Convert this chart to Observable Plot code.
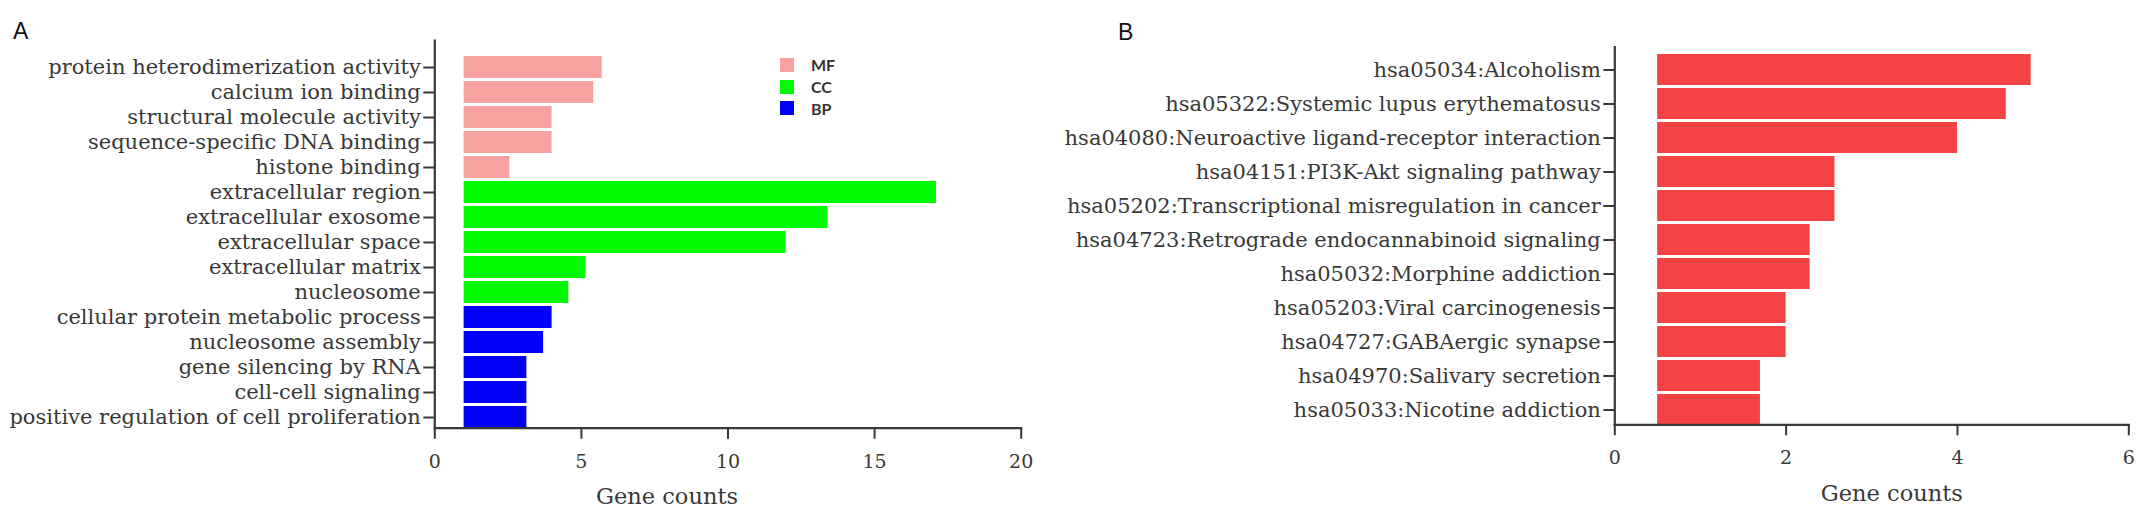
<!DOCTYPE html>
<html>
<head>
<meta charset="utf-8">
<script src="https://cdn.jsdelivr.net/npm/d3@7"></script>
<script src="https://cdn.jsdelivr.net/npm/@observablehq/plot@0.6"></script>
<style>
  body { margin: 0; background: #fff; }
  #wrap { position: relative; width: 2150px; height: 520px; background: #fff; overflow: hidden; }
  #wrap svg { position: absolute; top: 0; }
  .panel-tag { position: absolute; font-family: "Liberation Sans", Arial, sans-serif; font-size: 23px; line-height: 1; color: #111; }
  #legend { position: absolute; left: 780px; top: 54px; font-family: Lato, "Open Sans", sans-serif; font-weight: 700; font-size: 16px; color: #333; }
  #legend .row { display: flex; align-items: center; height: 21.7px; }
  #legend .sw { width: 14px; height: 14px; margin-right: 17px; }
</style>
</head>
<body>
<div id="wrap">
  <div class="panel-tag" style="left:13px;top:20px">A</div>
  <div class="panel-tag" style="left:1118px;top:20.5px">B</div>
  <div id="legend"></div>
</div>
<script>
// GO enrichment terms, top to bottom
const goTerms = [
  "protein heterodimerization activity",
  "calcium ion binding",
  "structural molecule activity",
  "sequence-specific DNA binding",
  "histone binding",
  "extracellular region",
  "extracellular exosome",
  "extracellular space",
  "extracellular matrix",
  "nucleosome",
  "cellular protein metabolic process",
  "nucleosome assembly",
  "gene silencing by RNA",
  "cell-cell signaling",
  "positive regulation of cell proliferation"
];
const goCounts = [5.71, 5.42, 4.0, 4.0, 2.56, 17.11, 13.41, 11.98, 5.15, 4.57, 4.0, 3.71, 3.14, 3.14, 3.14];
const goGroups = ["MF", "MF", "MF", "MF", "MF", "CC", "CC", "CC", "CC", "CC", "BP", "BP", "BP", "BP", "BP"];
const groupNames = ["MF", "CC", "BP"];
const groupColors = ["#f7a1a1", "#00fb00", "#0000f6"];
const goBase = 1;
const goTicks = [0, 5, 10, 15, 20];

// KEGG pathways, top to bottom
const keggTerms = [
  "hsa05034:Alcoholism",
  "hsa05322:Systemic lupus erythematosus",
  "hsa04080:Neuroactive ligand-receptor interaction",
  "hsa04151:PI3K-Akt signaling pathway",
  "hsa05202:Transcriptional misregulation in cancer",
  "hsa04723:Retrograde endocannabinoid signaling",
  "hsa05032:Morphine addiction",
  "hsa05203:Viral carcinogenesis",
  "hsa04727:GABAergic synapse",
  "hsa04970:Salivary secretion",
  "hsa05033:Nicotine addiction"
];
const keggCounts = [4.86, 4.57, 4.0, 2.57, 2.57, 2.28, 2.28, 2.0, 2.0, 1.7, 1.7];
const keggColor = "#f54343";
const keggBase = 0.5;
const keggTicks = [0, 2, 4, 6];

const axisTitle = "Gene counts";
const serif = "'DejaVu Serif', serif";
const ink = "#383838";

const goData = goTerms.map((term, i) => ({term, count: goCounts[i], group: goGroups[i]}));
const keggData = keggTerms.map((term, i) => ({term, count: keggCounts[i]}));

function panel({data, terms, ticks, base, xMax, fill, color, margins, yPad, titleDx}) {
  return Plot.plot({
    width: 1075,
    height: 520,
    ...margins,
    style: {fontFamily: serif, color: ink, background: "transparent", overflow: "visible"},
    x: {domain: [0, xMax], ticks},
    y: {domain: terms, paddingInner: yPad.inner, paddingOuter: yPad.outer, align: 1},
    color,
    marks: [
      Plot.barX(data, {y: "term", x1: () => base, x2: "count", fill}),
      Plot.axisY({tickSize: 11, tickPadding: 3, fontSize: 21, label: null, strokeWidth: 2}),
      Plot.axisX({ticks, tickFormat: d3.format("d"), tickSize: 11, tickPadding: 15, fontSize: 19, label: null, strokeWidth: 2}),
      Plot.frame({anchor: "left", strokeWidth: 2.2}),
      Plot.frame({anchor: "bottom", strokeWidth: 2.2}),
      Plot.text([axisTitle], {frameAnchor: "bottom", lineAnchor: "middle", dx: titleDx, dy: 69, fontSize: 22.5})
    ]
  });
}

const wrap = document.getElementById("wrap");

const chartA = panel({
  data: goData,
  terms: goTerms,
  ticks: goTicks,
  base: goBase,
  xMax: 20,
  fill: "group",
  color: {domain: groupNames, range: groupColors},
  margins: {marginLeft: 434.3, marginRight: 54.3, marginTop: 40, marginBottom: 92.3},
  yPad: {inner: 0.12, outer: 0.13},
  titleDx: -61
});
chartA.style.left = "0px";
wrap.appendChild(chartA);

const chartB = panel({
  data: keggData,
  terms: keggTerms,
  ticks: keggTicks,
  base: keggBase,
  xMax: 6,
  fill: keggColor,
  color: undefined,
  margins: {marginLeft: 539.3, marginRight: 21.7, marginTop: 46.7, marginBottom: 95.7},
  yPad: {inner: 0.1, outer: 0.04},
  titleDx: 20
});
chartB.style.left = "1075px";
wrap.appendChild(chartB);

// Category legend for the GO panel
const legend = d3.select("#legend");
const rows = legend.selectAll(".row").data(groupNames).join("div").attr("class", "row");
rows.append("div").attr("class", "sw").style("background", (d, i) => groupColors[i]);
rows.append("span").text(d => d);
</script>
</body>
</html>
